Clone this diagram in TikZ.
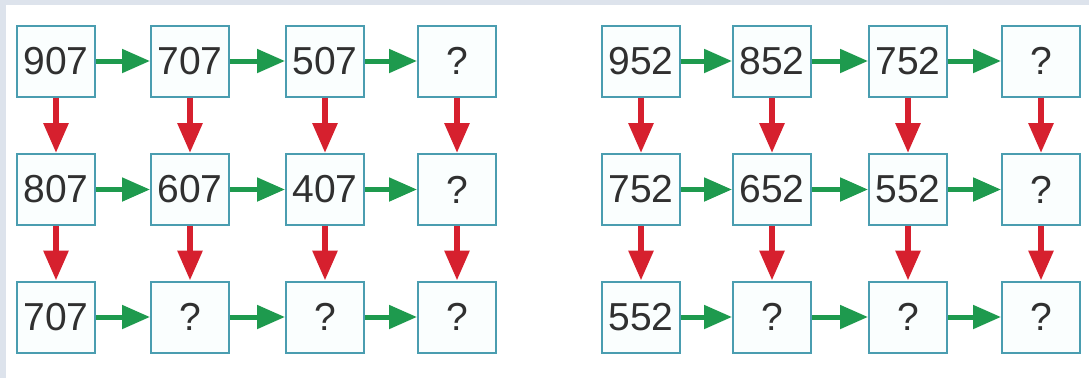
\documentclass[tikz,border=0pt]{standalone}
\usepackage{fontspec}
\setmainfont{Liberation Sans}
\usetikzlibrary{arrows.meta}
\definecolor{bgray}{HTML}{DDE3EC}
\definecolor{boxline}{HTML}{4A9DB0}
\definecolor{boxfill}{HTML}{FAFEFE}
\definecolor{garrow}{HTML}{1E9A4E}
\definecolor{rarrow}{HTML}{D6202E}
\definecolor{numtext}{HTML}{303030}
\begin{document}
\begin{tikzpicture}[x=1pt,y=-1pt,
  numbox/.style={draw=boxline, fill=boxfill, line width=2pt, minimum width=78pt, minimum height=71pt,
    inner sep=0pt, text=numtext, font=\fontsize{39}{41}\selectfont},
  garr/.style={draw=garrow, line width=5pt, -{Triangle[length=28pt,width=23pt]}},
  rarr/.style={draw=rarrow, line width=6pt, -{Triangle[length=30pt,width=24pt]}}]
\fill[bgray] (0,0) rectangle (1089,378);
\fill[white] (6,5) rectangle (1089,378);
% left grid
\node[numbox] (a11) at (56,61) {907};
\node[numbox] (a12) at (190,61) {707};
\node[numbox] (a13) at (325,61) {507};
\node[numbox] (a14) at (457,61) {?};
\node[numbox] (a21) at (56,189.5) {807};
\node[numbox] (a22) at (190,189.5) {607};
\node[numbox] (a23) at (325,189.5) {407};
\node[numbox] (a24) at (457,189.5) {?};
\node[numbox] (a31) at (56,317) {707};
\node[numbox] (a32) at (190,317) {?};
\node[numbox] (a33) at (325,317) {?};
\node[numbox] (a34) at (457,317) {?};
% right grid
\node[numbox] (b11) at (641,61) {952};
\node[numbox] (b12) at (772,61) {852};
\node[numbox] (b13) at (908,61) {752};
\node[numbox] (b14) at (1041,61) {?};
\node[numbox] (b21) at (641,189.5) {752};
\node[numbox] (b22) at (772,189.5) {652};
\node[numbox] (b23) at (908,189.5) {552};
\node[numbox] (b24) at (1041,189.5) {?};
\node[numbox] (b31) at (641,317) {552};
\node[numbox] (b32) at (772,317) {?};
\node[numbox] (b33) at (908,317) {?};
\node[numbox] (b34) at (1041,317) {?};
\foreach \g in {a,b}{
  \foreach \r in {1,2,3}{
    \draw[garr] (\g\r1.east) -- (\g\r2.west);
    \draw[garr] (\g\r2.east) -- (\g\r3.west);
    \draw[garr] (\g\r3.east) -- (\g\r4.west);
  }
  \foreach \c in {1,2,3,4}{
    \draw[rarr] (\g1\c.south) -- (\g2\c.north);
    \draw[rarr] (\g2\c.south) -- (\g3\c.north);
  }
}
\end{tikzpicture}
\end{document}
